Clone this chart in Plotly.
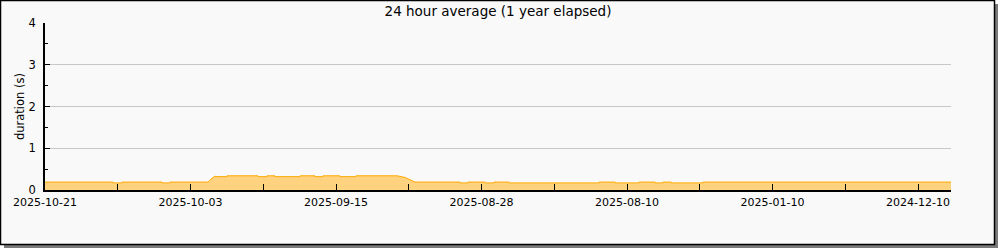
import plotly.graph_objects as go

# days elapsed (from left edge) and average duration in seconds
days = [0, 8.41, 8.41, 9.53, 9.53, 14.47, 14.47, 15.46, 15.46, 16.45, 16.45, 17.57, 17.57,
        20.17, 20.66, 21.03, 21.28, 22.52, 22.52, 26.35, 26.35, 27.46, 27.46, 28.45, 28.45,
        31.55, 31.55, 33.40, 33.40, 34.39, 34.39, 36.49, 36.49, 38.47, 38.47, 43.55, 44.54,
        45.15, 45.77, 51.34, 51.34, 52.33, 52.33, 54.43, 54.43, 55.55, 55.55, 57.40, 57.40,
        68.54, 68.54, 70.52, 70.52, 73.48, 73.48, 75.46, 75.46, 76.45, 76.45, 77.45, 77.45,
        81.40, 81.40, 112.08]
duration = [0.19, 0.19, 0.17, 0.17, 0.19, 0.19, 0.17, 0.17, 0.19, 0.19, 0.175, 0.175, 0.19,
            0.19, 0.28, 0.33, 0.32, 0.32, 0.34, 0.34, 0.32, 0.32, 0.34, 0.34, 0.32,
            0.32, 0.34, 0.34, 0.32, 0.32, 0.34, 0.34, 0.32, 0.32, 0.34, 0.34, 0.30,
            0.24, 0.19, 0.19, 0.17, 0.17, 0.19, 0.19, 0.17, 0.17, 0.19, 0.19, 0.17,
            0.17, 0.19, 0.19, 0.17, 0.17, 0.19, 0.19, 0.17, 0.17, 0.19, 0.19, 0.17,
            0.17, 0.19, 0.19]

tick_days = [0, 9, 18, 27, 36, 45, 54, 63, 72, 81, 90, 99, 108]
tick_labels = ["2025-10-21", "", "2025-10-03", "", "2025-09-15", "", "2025-08-28", "",
               "2025-08-10", "", "2025-01-10", "", "2024-12-10"]
x_max = 112.08

FONT = "DejaVu Sans"

fig = go.Figure()
fig.add_trace(go.Scatter(
    x=days, y=duration, mode="lines", fill="tozeroy",
    line=dict(color="#FFAA00", width=1), fillcolor="#FFD27F",
    hoverinfo="skip", showlegend=False,
))

L, R, T, B = 45, 49, 23, 60
W, H = 1000, 250
pw, ph = W - L - R, H - T - B

def px_x(px):
    return (px - L) / pw

def px_y(py):
    return (H - B - py) / ph

shapes = [
    # shadow
    dict(type="rect", xref="paper", yref="paper", layer="below",
         x0=px_x(4), x1=px_x(998), y0=px_y(4), y1=px_y(248),
         fillcolor="#7a7a7a", line=dict(width=0)),
    # frame
    dict(type="rect", xref="paper", yref="paper", layer="below",
         x0=px_x(0.5), x1=px_x(994.5), y0=px_y(0.5), y1=px_y(244.5),
         fillcolor="#f9f9f9", line=dict(color="black", width=1.5)),
]

fig.update_layout(
    width=W, height=H,
    margin=dict(l=L, r=R, t=T, b=B),
    paper_bgcolor="white", plot_bgcolor="white",
    shapes=shapes,
    font=dict(family=FONT, size=11, color="black"),
    title=dict(text="24 hour average (1 year elapsed)", x=0.5, xref="paper",
               xanchor="center", y=1 - 11 / H, yanchor="middle",
               font=dict(family=FONT, size=13.5, color="black")),
    xaxis=dict(range=[0, x_max], tickmode="array", tickvals=tick_days, ticktext=tick_labels,
               ticks="inside", ticklen=6, tickcolor="black", showgrid=False,
               showline=True, linecolor="black", linewidth=1.5, zeroline=False,
               ticklabelstandoff=1,
               tickfont=dict(family=FONT, size=11), fixedrange=True),
    yaxis=dict(range=[0, 4], tickmode="linear", tick0=0, dtick=1,
               ticks="inside", ticklen=5, tickcolor="black",
               showgrid=True, gridcolor="#c8c8c8", gridwidth=1,
               showline=True, linecolor="black", linewidth=1.5, zeroline=False,
               ticklabelstandoff=5,
               minor=dict(dtick=0.5, ticks="inside", ticklen=3, tickcolor="black", showgrid=False),
               title=dict(text="duration (s)", font=dict(family=FONT, size=11.5), standoff=2),
               tickfont=dict(family=FONT, size=11.5), fixedrange=True),
)

fig.write_html("out.html")
